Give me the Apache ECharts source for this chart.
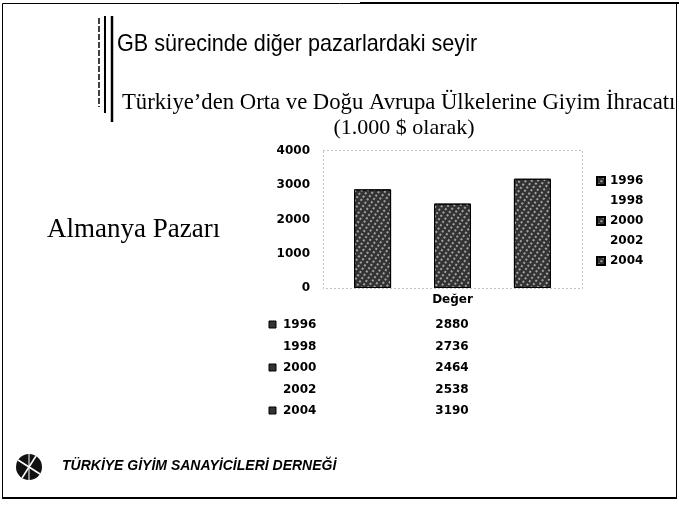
<!DOCTYPE html>
<html>
<head>
<meta charset="utf-8">
<script src="https://cdn.jsdelivr.net/npm/echarts@6/dist/echarts.min.js"></script>
<style>html,body{margin:0;padding:0;background:#fff}#c{width:679px;height:505px}</style>
</head>
<body>
<div id="c"></div>
<script>
const categories = ['Değer'];
const years = ['1996', '1998', '2000', '2002', '2004'];
const values = [2880, 2736, 2464, 2538, 3190];
const seriesColors = ['#333333', '#ffffff', '#333333', '#ffffff', '#333333'];
const yMin = 0, yMax = 4000, yInterval = 1000;
const titleText = 'GB sürecinde diğer pazarlardaki seyir';
const subtitleText = 'Türkiye’den Orta ve Doğu Avrupa Ülkelerine Giyim İhracatı';
const unitText = '(1.000 $ olarak)';
const sideLabel = 'Almanya Pazarı';
const footerText = 'TÜRKİYE GİYİM SANAYİCİLERİ DERNEĞİ';

const chart = echarts.init(document.getElementById('c'));
const boldFont = 'DejaVu Sans';

const graphics = [
  // slide frame
  {type:'rect', shape:{x:2.5, y:3.5, width:674, height:494}, style:{fill:'none', stroke:'#000', lineWidth:1}, silent:true},
  {type:'line', shape:{x1:360, y1:3, x2:679, y2:3}, style:{stroke:'#000', lineWidth:2}},
  {type:'line', shape:{x1:2, y1:498, x2:677, y2:498}, style:{stroke:'#000', lineWidth:2}},
  // vertical decorative lines by title
  {type:'line', shape:{x1:99, y1:18, x2:99, y2:107}, style:{stroke:'#000', lineWidth:1.5, lineDash:[6,2]}},
  {type:'line', shape:{x1:105, y1:16, x2:105, y2:113}, style:{stroke:'#000', lineWidth:2}},
  {type:'line', shape:{x1:112, y1:16, x2:112, y2:122}, style:{stroke:'#000', lineWidth:2.5}},
  // titles
  {type:'text', x:117, y:44, scaleX:0.9, style:{text:titleText, font:'24px "Liberation Sans", Arial, sans-serif', fill:'#000', verticalAlign:'middle'}},
  {type:'text', left:122, top:92, style:{text:subtitleText, font:'22.7px "Liberation Serif", serif', fill:'#000'}},
  {type:'text', x:404, y:128, style:{text:unitText, font:'22px "Liberation Serif", serif', fill:'#000', align:'center', verticalAlign:'middle'}},
  {type:'text', left:47, top:216, style:{text:sideLabel, font:'27px "Liberation Serif", serif', fill:'#000'}},
  // plot area dotted frame
  {type:'rect', shape:{x:323.5, y:150.5, width:259, height:138}, style:{fill:'none', stroke:'#888', lineWidth:1, lineDash:[1,3]}, silent:true},
  // footer emblem
  {type:'circle', shape:{cx:29, cy:467, r:13}, style:{fill:'#111'}},
  {type:'line', shape:{x1:18, y1:460, x2:40, y2:474}, style:{stroke:'#fff', lineWidth:1.5}},
  {type:'line', shape:{x1:22, y1:478, x2:36, y2:456}, style:{stroke:'#fff', lineWidth:1.5}},
  {type:'line', shape:{x1:29, y1:454, x2:29, y2:480}, style:{stroke:'#fff', lineWidth:1}},
  {type:'text', left:62, top:459, style:{text:footerText, font:'italic bold 14px "Liberation Sans", Arial, sans-serif', fill:'#000'}}
];

// data table under the chart
const rowY0 = 325, rowStep = 21.5;
years.forEach((yr, i) => {
  const y = rowY0 + i * rowStep;
  if (seriesColors[i] !== '#ffffff') {
    graphics.push({type:'rect', shape:{x:269, y:y - 4, width:7, height:7}, style:{fill:seriesColors[i], stroke:'#000', lineWidth:1}});
  }
  graphics.push({type:'text', x:283, y:y, style:{text:yr, font:'bold 12px "' + boldFont + '"', fill:'#000', verticalAlign:'middle'}});
  graphics.push({type:'text', x:452, y:y, style:{text:String(values[i]), font:'bold 12px "' + boldFont + '"', fill:'#000', align:'center', verticalAlign:'middle'}});
});

const decal = {symbol:'rect', symbolSize:1, dashArrayX:[[2, 3]], dashArrayY:[2, 2], color:'rgba(255,255,255,0.55)', rotation:0.6};

const option = {
  animation: false,
  backgroundColor: '#fff',
  grid: {left: 323, right: 97, top: 151, height: 137, containLabel: false},
  legend: {
    orient: 'vertical', left: 591, top: 170,
    itemWidth: 8, itemHeight: 8, itemGap: 8,
    icon: 'rect',
    data: years,
    textStyle: {fontFamily: boldFont, fontWeight: 'bold', fontSize: 12, color: '#000'}
  },
  xAxis: {
    type: 'category', data: categories,
    axisLine: {show: false}, axisTick: {show: false},
    axisLabel: {fontFamily: boldFont, fontWeight: 'bold', fontSize: 12, color: '#000', margin: 6}
  },
  yAxis: {
    type: 'value', min: yMin, max: yMax, interval: yInterval,
    axisLine: {show: false}, axisTick: {show: false}, splitLine: {show: false},
    axisLabel: {fontFamily: boldFont, fontWeight: 'bold', fontSize: 12, color: '#000', margin: 13,
      formatter: v => String(v)}
  },
  series: years.map((yr, i) => ({
    name: yr, type: 'bar', data: [values[i]],
    barWidth: 37, barGap: '8%',
    itemStyle: {
      color: seriesColors[i],
      borderColor: seriesColors[i] === '#ffffff' ? '#ffffff' : '#000', borderWidth: 1,
      decal: seriesColors[i] === '#ffffff' ? null : decal
    }
  })),
  graphic: graphics
};
chart.setOption(option);
</script>
</body>
</html>
